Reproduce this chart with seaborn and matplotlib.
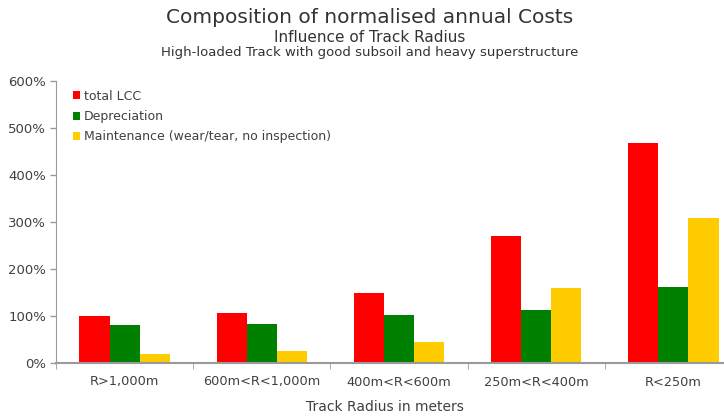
import pandas as pd
import numpy as np
import seaborn as sns
import matplotlib.pyplot as plt

# values (percent of base case)
categories = ["R>1,000m", "600m<R<1,000m", "400m<R<600m", "250m<R<400m", "R<250m"]
total_lcc = [100, 107, 148, 271, 469]
depreciation = [80, 82, 102, 113, 161]
maintenance = [20, 25, 45, 159, 308]
series_names = ["total LCC", "Depreciation", "Maintenance (wear/tear, no inspection)"]
yticks = [0, 100, 200, 300, 400, 500, 600]

df = pd.DataFrame({
    "Radius": categories * 3,
    "Cost": total_lcc + depreciation + maintenance,
    "Series": [series_names[0]] * 5 + [series_names[1]] * 5 + [series_names[2]] * 5,
})

sns.set_style("white")
plt.rcParams['font.family'] = ['DejaVu Sans']
txt = "#404040"
axis_col = "#9a9a9a"

fig = plt.figure(figsize=(7.24, 4.16), dpi=100)
ax = fig.add_axes([56 / 724, 1 - 363 / 416, 686 / 724, (363 - 81) / 416])

palette = {series_names[0]: "#FF0000", series_names[1]: "#008000", series_names[2]: "#FFCC00"}
sns.barplot(data=df, x="Radius", y="Cost", hue="Series", palette=palette,
            width=0.66, saturation=1, ax=ax, edgecolor="none")

ax.set_xlim(-0.5, 4.5)
ax.set_ylim(0, 600)
ax.set_yticks(yticks)
ax.set_yticklabels([f"{v}%" for v in yticks], color=txt, fontsize=9.5)
ax.tick_params(axis="y", direction="out", length=4, color=axis_col, width=1, pad=3, left=True)
ax.set_xticks(range(5))
ax.set_xticklabels(categories, color=txt, fontsize=9.3)
ax.set_xticks(np.arange(-0.5, 5, 1), minor=True)
ax.tick_params(axis="x", which="major", length=0, pad=9)
ax.tick_params(axis="x", which="minor", direction="out", length=4, color=axis_col, bottom=True)

for side in ["top", "right"]:
    ax.spines[side].set_visible(False)
ax.spines["left"].set_color(axis_col)
ax.spines["bottom"].set_color(axis_col)
ax.spines["bottom"].set_linewidth(1.5)

ax.set_ylabel("")
ax.set_xlabel("")
fig.text(0.532, 1 - 407 / 416, "Track Radius in meters", ha="center", va="center",
         color=txt, fontsize=10)

leg = ax.legend(loc="upper left", bbox_to_anchor=(0.012, 1.0), frameon=False,
                fontsize=9, handlelength=0.6, handleheight=0.6, handletextpad=0.3,
                labelspacing=0.58, borderaxespad=0.3)
for t in leg.get_texts():
    t.set_color(txt)

fig.text(0.51, 0.957, "Composition of normalised annual Costs", ha="center", va="center",
         fontsize=14.5, color="#333333")
fig.text(0.51, 0.91, "Influence of Track Radius", ha="center", va="center",
         fontsize=11, color="#333333")
fig.text(0.51, 0.874, "High-loaded Track with good subsoil and heavy superstructure",
         ha="center", va="center", fontsize=9.5, color="#333333")

fig.savefig("out.png", dpi=100)
